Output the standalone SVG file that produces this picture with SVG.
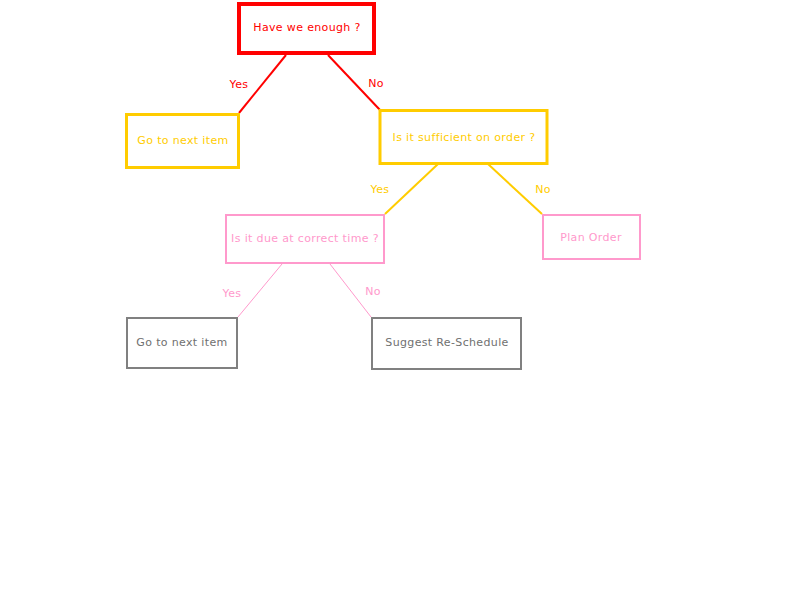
<svg xmlns="http://www.w3.org/2000/svg" width="800" height="600" viewBox="0 0 800 600">
<style>
text{font-family:"DejaVu Sans","Liberation Sans",sans-serif;font-size:11px;letter-spacing:0.35px;text-anchor:middle;dominant-baseline:central}
.r{fill:#ff0000}.y{fill:#ffcc00}.p{fill:#ff99cc}.g{fill:#707070}
rect{fill:#ffffff}
</style>
<rect x="0" y="0" width="800" height="600" fill="#ffffff"/>
<g id="connectors" fill="none">
<line x1="286" y1="55" x2="239" y2="113" stroke="#ff0000" stroke-width="2"/>
<line x1="328" y1="55" x2="380" y2="110" stroke="#ff0000" stroke-width="2"/>
<line x1="438" y1="164" x2="385" y2="214" stroke="#ffcc00" stroke-width="2"/>
<line x1="488" y1="164" x2="542" y2="214" stroke="#ffcc00" stroke-width="2"/>
<line x1="282" y1="264" x2="238" y2="317" stroke="#ff99cc" stroke-width="1"/>
<line x1="330" y1="264" x2="371" y2="317" stroke="#ff99cc" stroke-width="1"/>
<text class="r" x="239" y="84">Yes</text>
<text class="r" x="376" y="83">No</text>
<text class="y" x="380" y="189">Yes</text>
<text class="y" x="543" y="189">No</text>
<text class="p" x="232" y="293">Yes</text>
<text class="p" x="373" y="291">No</text>
</g>
<g id="n1"><rect x="239" y="4" width="135" height="49" stroke="#ff0000" stroke-width="4"/><text class="r" x="307" y="27">Have we enough ?</text></g>
<g id="n2"><rect x="126.5" y="114.5" width="112" height="53" stroke="#ffcc00" stroke-width="3"/><text class="y" x="183" y="140">Go to next item</text></g>
<g id="n3"><rect x="380" y="110.5" width="167" height="53" stroke="#ffcc00" stroke-width="3"/><text class="y" x="464" y="137">Is it sufficient on order ?</text></g>
<g id="n4"><rect x="226" y="215" width="158" height="48" stroke="#ff99cc" stroke-width="2"/><text class="p" x="305" y="238">Is it due at correct time ?</text></g>
<g id="n5"><rect x="543" y="215" width="97" height="44" stroke="#ff99cc" stroke-width="2"/><text class="p" x="591" y="237">Plan Order</text></g>
<g id="n6"><rect x="127" y="318" width="110" height="50" stroke="#808080" stroke-width="2"/><text class="g" x="182" y="342">Go to next item</text></g>
<g id="n7"><rect x="372" y="318" width="149" height="51" stroke="#808080" stroke-width="2"/><text class="g" x="447" y="342">Suggest Re-Schedule</text></g>
</svg>
